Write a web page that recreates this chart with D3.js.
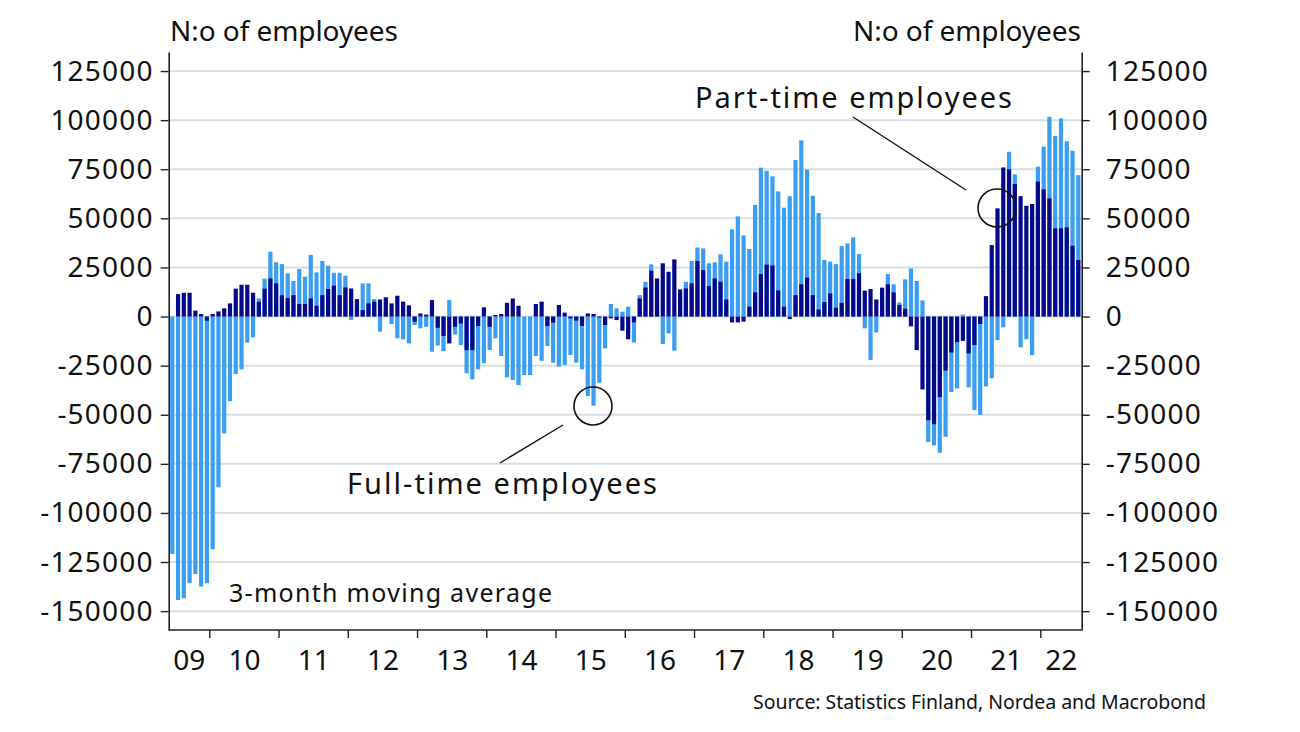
<!DOCTYPE html>
<html>
<head>
<meta charset="utf-8">
<script src="https://cdn.jsdelivr.net/npm/d3@7"></script>
<style>
  html, body { margin: 0; padding: 0; background: #ffffff; }
  svg { display: block; font-family: "Noto Sans", "Open Sans", sans-serif; }
</style>
</head>
<body>
<svg id="chart" width="1300" height="732"></svg>
<script>
// ---- Data (3-month moving average, change in number of employees) ----
// Monthly observations from June 2009 to July 2022
const startDate = new Date(2009, 5, 1);
const yearLabels = ["09","10","11","12","13","14","15","16","17","18","19","20","21","22"];
const yTickValues = [-150000,-125000,-100000,-75000,-50000,-25000,0,25000,50000,75000,100000,125000];

const fullTime = [
 -120900,-144300,-143400,-135800,-131100,-137500,-135800,-118500,-87000,-59500,
 -43100,-29300,-26900,-13300,-10600,9200,19300,33000,27600,26700,
 22000,18100,24200,20300,31300,22500,28300,25900,22300,22300,
 20800,-1800,4000,16900,16900,8900,-7700,3000,-3800,-11100,
 -11600,-13700,-4300,-6000,-5200,-17900,-14800,-17600,8400,-9100,
 -14500,-28900,-32000,-26900,-23800,-17100,-11100,-20100,-31000,-32300,
 -34900,-29800,-29800,-20100,-22500,-15000,-23500,-25500,-24700,-19600,
 -23500,-26900,-40500,-45400,-33700,-16200,6400,4200,2500,5000,
 -13200,10900,17700,26600,15000,-14000,-8600,-17400,10000,17700,
 28300,35200,34700,27100,27600,31700,27900,44400,51000,41300,
 34400,56800,75800,74200,71400,63700,55400,61300,79700,89700,
 74900,61500,52700,28800,27900,26700,35900,37200,40300,31800,
 -6000,-22100,-8100,10000,21600,16400,7200,18900,24500,18100,
 8200,-63900,-65600,-69300,-61200,-38400,-36600,1000,-36100,-47600,
 -50100,-35600,-31400,-12000,-5500,83900,72400,-15700,-11600,-19600,
 76300,86500,101700,91900,100900,89300,84400,72000
];

const partTime = [
 0,11450,12100,12100,3000,1300,-2100,1300,2600,4200,
 6700,14200,16200,16200,12100,7500,14200,19400,16900,10800,
 9400,10900,6400,6400,9200,5500,10900,14000,15700,10900,
 14800,14300,8900,3300,6700,7600,8700,9800,6700,10600,
 7600,5700,-2600,1600,1000,8400,-5700,-9900,-13700,-5200,
 -3500,-17100,-17100,-4800,4700,-5200,800,1300,7000,9200,
 5500,0,0,6400,7600,-4800,-3100,5900,2000,-900,
 -2100,-4800,1600,1300,-500,-4300,-900,-1800,-7200,-11600,
 -3000,9200,14800,23300,19400,27100,22800,29100,13800,14300,
 16900,28300,23700,15500,19400,17700,8700,-3000,-3000,-2600,
 5000,12300,21600,26400,26000,13300,5000,-1300,10900,16400,
 19800,10900,3600,7400,11800,4500,7000,19100,19100,22000,
 13200,14000,8700,14700,16400,12300,5900,4000,-5000,-17100,
 -37100,-52800,-54800,-41000,-27500,-18300,-13000,-12400,-18800,-14500,
 -3800,10400,36400,55100,75900,75000,67500,61300,56400,57300,
 68700,64800,60200,44900,44900,45400,36100,28800
];

(function () {
const months = fullTime.map((_, i) => d3.timeMonth.offset(startDate, i));

// ---- Layout ----
const svg = d3.select("#chart");
const pL = 168.7, pR = 1081.7, pT = 52, pB = 630;
const lightBlue = "#3a9ef5", darkBlue = "#05098c", gridColor = "#d6e0e8";

const monthIndex = d => (d.getFullYear() - startDate.getFullYear()) * 12 + d.getMonth() - startDate.getMonth();
const x = d3.scaleLinear().domain([-0.62, fullTime.length - 1 + 0.59]).range([pL, pR]);
const y = d3.scaleLinear().domain([-159600, 134700]).range([pB, pT]);
const barW = 4.2;

// gridlines
svg.append("g").selectAll("line").data(yTickValues).join("line")
  .attr("x1", pL).attr("x2", pR)
  .attr("y1", d => y(d)).attr("y2", d => y(d))
  .attr("stroke", gridColor).attr("stroke-width", 2);

// bars: full-time (light) behind part-time (dark)
function drawBars(values, color) {
  svg.append("g").selectAll("rect").data(values).join("rect")
    .attr("x", (d, i) => x(monthIndex(months[i])) - barW / 2)
    .attr("width", barW)
    .attr("y", d => y(Math.max(0, d)))
    .attr("height", d => Math.abs(y(d) - y(0)))
    .attr("fill", color);
}
drawBars(fullTime, lightBlue);
drawBars(partTime, darkBlue);

// y axes
const fmt = d => String(d);
const yLeft = svg.append("g").attr("transform", `translate(${pL},0)`)
  .call(d3.axisLeft(y).tickValues(yTickValues).tickFormat(fmt).tickSize(8).tickSizeOuter(0).tickPadding(8));
const yRight = svg.append("g").attr("transform", `translate(${pR},0)`)
  .call(d3.axisRight(y).tickValues(yTickValues).tickFormat(fmt).tickSize(8).tickSizeOuter(0).tickPadding(16));
[yLeft, yRight].forEach(g => {
  g.select(".domain").attr("stroke", "#222").attr("stroke-width", 1.6);
  g.selectAll(".tick line").attr("stroke", "#222").attr("stroke-width", 1.4);
  g.selectAll("text").attr("font-size", 28).attr("fill", "#111")
    .attr("letter-spacing", 1.2)
    .attr("font-family", '"Noto Sans", sans-serif');
});
yLeft.selectAll("text").attr("dx", 1);

// x axis: year boundaries
const years = d3.range(2009, 2023);
const boundaries = years.slice(1).map(yr => x(monthIndex(new Date(yr, 0, 1)) - 0.5));
svg.append("line").attr("x1", pL).attr("x2", pR).attr("y1", pB).attr("y2", pB)
  .attr("stroke", "#222").attr("stroke-width", 1.6);
svg.append("g").selectAll("line").data(boundaries).join("line")
  .attr("x1", d => d).attr("x2", d => d).attr("y1", pB).attr("y2", pB + 8)
  .attr("stroke", "#222").attr("stroke-width", 1.4);
const edges = [pL, ...boundaries, pR];
svg.append("g").selectAll("text").data(yearLabels).join("text")
  .attr("x", (d, i) => (edges[i] + edges[i + 1]) / 2)
  .attr("y", 670)
  .attr("text-anchor", "middle")
  .attr("font-size", 28).attr("fill", "#111")
  .text(d => d);

// titles
svg.append("text").attr("x", 170).attr("y", 41).attr("font-size", 28).attr("fill", "#111")
  .attr("textLength", 228).attr("lengthAdjust", "spacing").text("N:o of employees");
svg.append("text").attr("x", 853).attr("y", 41).attr("font-size", 28).attr("fill", "#111")
  .attr("textLength", 228).attr("lengthAdjust", "spacing").text("N:o of employees");

// annotations
svg.append("text").attr("x", 695).attr("y", 108).attr("font-size", 29).attr("fill", "#111")
  .attr("textLength", 317).attr("lengthAdjust", "spacing").text("Part-time employees");
svg.append("line").attr("x1", 853).attr("y1", 117).attr("x2", 966).attr("y2", 190).attr("stroke", "#111").attr("stroke-width", 1.4);
svg.append("circle").attr("cx", 997).attr("cy", 208).attr("r", 19).attr("fill", "none").attr("stroke", "#111").attr("stroke-width", 1.6);

svg.append("text").attr("x", 347).attr("y", 494).attr("font-size", 29).attr("fill", "#111")
  .attr("textLength", 310).attr("lengthAdjust", "spacing").text("Full-time employees");
svg.append("line").attr("x1", 500).attr("y1", 463).attr("x2", 563).attr("y2", 425).attr("stroke", "#111").attr("stroke-width", 1.4);
svg.append("circle").attr("cx", 593).attr("cy", 406).attr("r", 19).attr("fill", "none").attr("stroke", "#111").attr("stroke-width", 1.6);

svg.append("text").attr("x", 229).attr("y", 602).attr("font-size", 25).attr("fill", "#111")
  .attr("textLength", 323).attr("lengthAdjust", "spacing").text("3-month moving average");

svg.append("text").attr("x", 753).attr("y", 709).attr("font-size", 19.5).attr("fill", "#111")
  .attr("textLength", 453).attr("lengthAdjust", "spacing")
  .text("Source: Statistics Finland, Nordea and Macrobond");
})();
</script>
</body>
</html>
